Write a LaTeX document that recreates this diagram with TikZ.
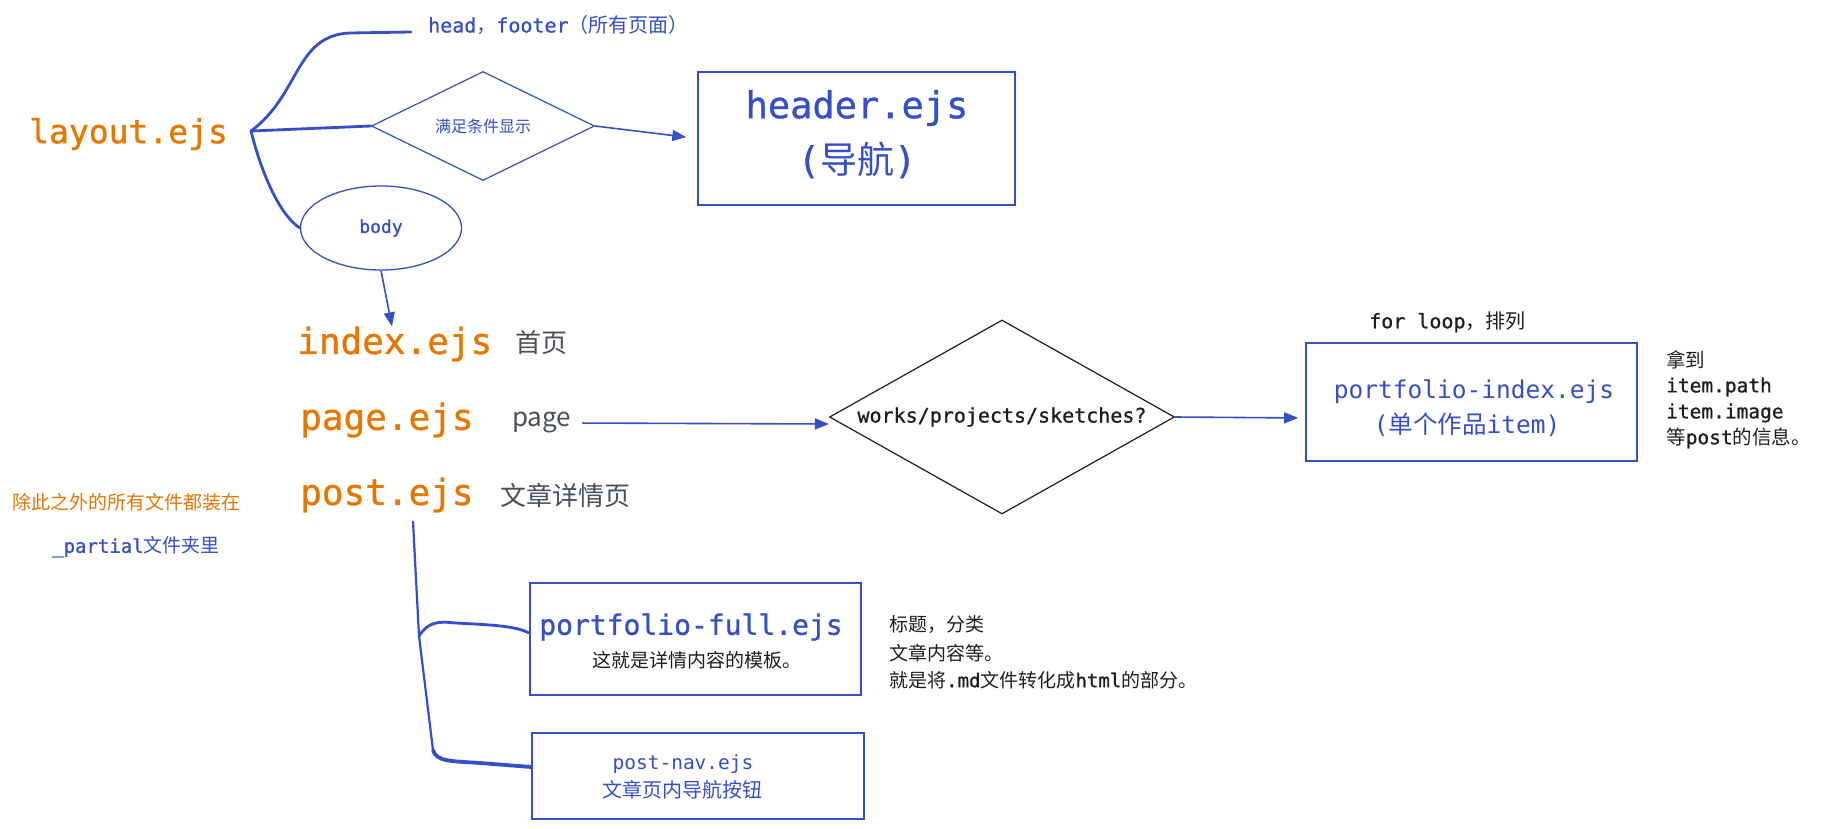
\documentclass[tikz,border=0pt]{standalone}
\usepackage{fontspec}
\newfontfamily\mono{DejaVu Sans Mono}
\newfontfamily\monomed{DejaVu Sans Mono}[FakeBold=0.9]
\newfontfamily\cjk{Noto Sans CJK SC}
\usetikzlibrary{arrows.meta,shapes.geometric}
\definecolor{xblue}{HTML}{364FC7}
\definecolor{xorange}{HTML}{E67700}
\definecolor{xgray}{HTML}{495057}
\definecolor{xblack}{HTML}{1E1E1E}
\newcommand\zh[1]{{\cjk #1}}
\tikzset{
  code/.style={font=\monomed\fontsize{#1}{#1}\selectfont, inner sep=0pt},
  lcode/.style={font=\mono\fontsize{#1}{#1}\selectfont, inner sep=0pt},
  hanzi/.style={font=\cjk\fontsize{#1}{#1}\selectfont, inner sep=0pt},
  conn/.style={draw=xblue, line width=2.8pt, line cap=round, line join=round},
  arr/.style={draw=xblue, line width=1.6pt, -{Triangle[length=14pt,width=11pt]}},
  boxx/.style={draw=xblue, line width=1.6pt, rectangle, inner sep=0pt},
  dia/.style={diamond, inner sep=0pt, line width=1.2pt},
}
\begin{document}
\begin{tikzpicture}[x=1pt,y=-1pt]
\fill[white] (0,0) rectangle (1823,829);
\useasboundingbox (0,0) rectangle (1823,829);

% ---- top part
\node[code=33, text=xorange, anchor=west] (layout) at (29,134) {layout.ejs};
\coordinate (J) at (251,131);
\node[code=20, text=xblue, anchor=west] (headtxt) at (428,25) {head\zh{，}footer\zh{（所有页面）}};
\node[dia, draw=xblue, shape aspect=2.05, minimum width=223, minimum height=109,
      hanzi=16, text=xblue] (cond) at (483,126) {满足条件显示};
\node[boxx, minimum width=317, minimum height=133] (header) at (856.5,138.5) {};
\node[code=37, text=xblue] (headername) at (857,108) {header.ejs};
\node[code=37, text=xblue] (headernav) at (857,160) {(\zh{导航})};
\node[ellipse, draw=xblue, line width=1.3pt, minimum width=161, minimum height=84,
      code=18, text=xblue] (body) at (381,228) {body};

\draw[conn] (J) .. controls (300,95) and (295,35) .. (350,33) -- ([xshift=-17pt,yshift=-7pt]headtxt.west);
\draw[conn] (J) -- (cond.west);
\draw[conn] (J) .. controls (262,175) and (280,215) .. (body.west);
\draw[arr, shorten >=11pt] (cond.east) -- (header.west);

% ---- middle part
\node[code=36, text=xorange, anchor=west] (index) at (297,344) {index.ejs};
\node[hanzi=26, text=xgray, anchor=west] (indexnote) at (515,343) {首页};
\node[code=36, text=xorange, anchor=west] (page) at (300,420) {page.ejs};
\node[hanzi=26, text=xgray, anchor=west] (pagenote) at (512,423) {page};
\node[code=36, text=xorange, anchor=west] (post) at (300,495) {post.ejs};
\node[hanzi=26, text=xgray, anchor=west] (postnote) at (500,495) {文章详情页};

\draw[arr] (body.south) -- ([xshift=95pt]index.north west);

\node[dia, draw=xblack, shape aspect=1.78, minimum width=345, minimum height=194,
      code=20, text=xblack] (works) at (1002,417) {works/projects/sketches?};
\draw[arr, shorten <=11pt] (pagenote.east) -- ([yshift=-7pt]works.west);

\node[code=20, text=xblack, anchor=west] (forloop) at (1369,322) {for loop\zh{，排列}};
\node[boxx, minimum width=331, minimum height=118] (pibox) at (1471.5,402) {};
\node[lcode=24.5, text=xblue] (piname) at (1474,392) {portfolio-index.ejs};
\node[lcode=24.5, text=xblue] (pisub) at (1467,425) {(\zh{单个作品}item)};
\draw[arr, shorten >=7pt] (works.east) -- ([yshift=-16pt]pibox.west);

\node[hanzi=19.5, text=xblack, anchor=west] (n1) at (1666,360) {拿到};
\node[code=19.5, text=xblack, anchor=west] (n2) at (1666,387) {item.path};
\node[code=19.5, text=xblack, anchor=west] (n3) at (1666,413) {item.image};
\node[code=19.5, text=xblack, anchor=west] (n4) at (1666,438) {\zh{等}post\zh{的信息。}};

% ---- left notes
\node[hanzi=19, text=xorange, anchor=west] (lnote1) at (12,502) {除此之外的所有文件都装在};
\node[code=19, text=xblue, anchor=west] (lnote2) at (52,547) {\_partial\zh{文件夹里}};

% ---- bottom part
\node[boxx, minimum width=331, minimum height=112] (pf) at (695.5,639) {};
\node[code=28, text=xblue] (pfname) at (691,627) {portfolio-full.ejs};
\node[hanzi=19, text=xblack] (pfsub) at (697,660) {这就是详情内容的模板。};
\node[boxx, minimum width=332, minimum height=86] (pn) at (698,776) {};
\node[lcode=19.5, text=xblue] (pnname) at (683,764) {post-nav.ejs};
\node[hanzi=20, text=xblue] (pnsub) at (682,790) {文章页内导航按钮};

\node[hanzi=19, text=xblack, anchor=west] (r1) at (889,625) {标题，分类};
\node[hanzi=19, text=xblack, anchor=west] (r2) at (889,653) {文章内容等。};
\node[code=19, text=xblack, anchor=west] (r3) at (889,680) {\zh{就是将}.md\zh{文件转化成}html\zh{的部分。}};

\coordinate (B) at (419,636);
\draw[conn, line width=2.2pt] ([xshift=113pt,yshift=-9pt]post.south west) -- (B) -- (433,750);
\draw[conn, line width=3.8pt] (433,750) .. controls (436,762) and (452,761) .. (480,763) -- ([yshift=9pt]pn.west);
\draw[conn] (B) .. controls (428,622) and (438,621) .. (455,623) .. controls (495,625) and (515,626) .. ([yshift=6pt]pf.west);
\end{tikzpicture}
\end{document}
